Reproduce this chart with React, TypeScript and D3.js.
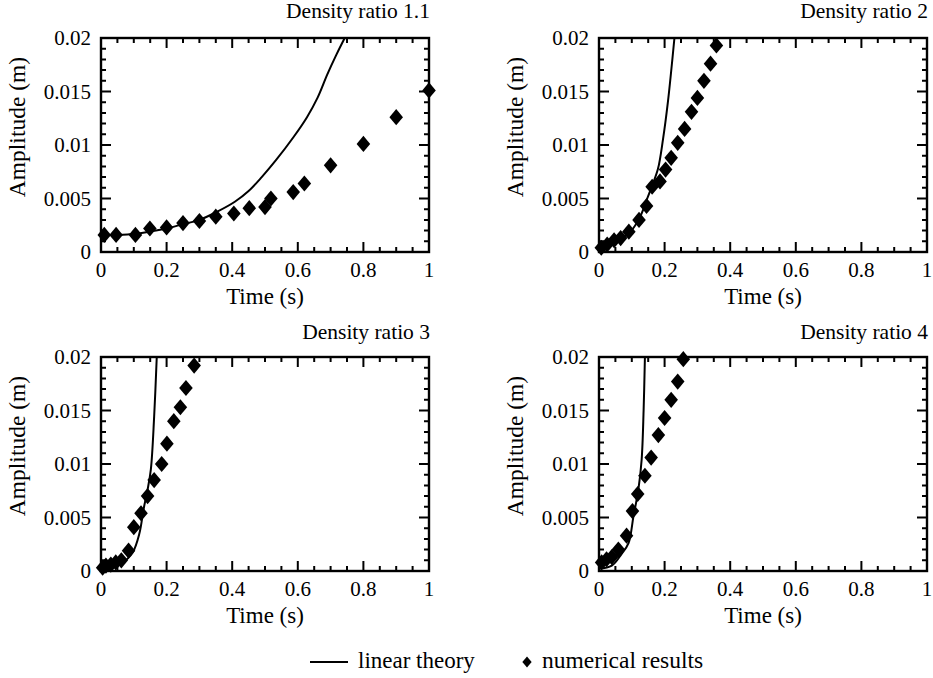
import { useEffect, useRef } from 'react'
import * as d3 from 'd3'

// numerical results (diamonds) and linear theory (curve) per density ratio
const titles = ['Density ratio 1.1', 'Density ratio 2', 'Density ratio 3', 'Density ratio 4']

const numT1 = [0.01, 0.046, 0.105, 0.149, 0.2, 0.25, 0.3, 0.35, 0.405, 0.452, 0.5, 0.518, 0.586, 0.62, 0.7, 0.8, 0.9, 1.0]
const numA1 = [0.0016, 0.0016, 0.0016, 0.0022, 0.0023, 0.0027, 0.0029, 0.0033, 0.0036, 0.0041, 0.0042, 0.005, 0.0056, 0.0064, 0.0081, 0.0101, 0.0126, 0.0151]
const linT1 = [0, 0.05, 0.105, 0.147, 0.2, 0.25, 0.3, 0.356, 0.408, 0.45, 0.49, 0.534, 0.586, 0.628, 0.66, 0.69, 0.717, 0.743]
const linA1 = [0.0016, 0.0016, 0.0017, 0.0019, 0.0022, 0.0026, 0.003, 0.0038, 0.0047, 0.0057, 0.007, 0.0086, 0.0107, 0.0126, 0.0144, 0.0166, 0.0184, 0.02]

const numT2 = [0.007, 0.025, 0.046, 0.066, 0.091, 0.122, 0.145, 0.162, 0.186, 0.203, 0.22, 0.24, 0.261, 0.282, 0.3, 0.32, 0.34, 0.358]
const numA2 = [0.0004, 0.0007, 0.0011, 0.0013, 0.0019, 0.003, 0.0043, 0.0061, 0.0066, 0.0077, 0.0088, 0.0102, 0.0115, 0.0131, 0.0144, 0.016, 0.0176, 0.0193]
const linT2 = [0, 0.046, 0.096, 0.127, 0.147, 0.162, 0.18, 0.195, 0.21, 0.23]
const linA2 = [0.0002, 0.0008, 0.0019, 0.0034, 0.005, 0.0062, 0.0078, 0.0105, 0.014, 0.02]

const numT3 = [0.005, 0.015, 0.03, 0.045, 0.062, 0.084, 0.1, 0.122, 0.142, 0.162, 0.185, 0.201, 0.222, 0.242, 0.259, 0.284]
const numA3 = [0.0003, 0.0005, 0.0006, 0.0008, 0.001, 0.0019, 0.0041, 0.0054, 0.007, 0.0085, 0.01, 0.0119, 0.014, 0.0153, 0.0171, 0.0192]
const linT3 = [0, 0.03, 0.066, 0.096, 0.117, 0.13, 0.142, 0.152, 0.162, 0.17]
const linA3 = [0.0003, 0.0005, 0.0008, 0.0017, 0.0035, 0.0058, 0.0076, 0.0095, 0.0144, 0.02]

const numT4 = [0.008, 0.023, 0.039, 0.059, 0.084, 0.102, 0.118, 0.14, 0.159, 0.181, 0.2, 0.22, 0.24, 0.257]
const numA4 = [0.0008, 0.0011, 0.0013, 0.002, 0.0033, 0.0056, 0.0072, 0.0089, 0.0106, 0.0127, 0.0143, 0.016, 0.0177, 0.0198]
const linT4 = [0, 0.039, 0.069, 0.09, 0.105, 0.12, 0.13, 0.136, 0.14]
const linA4 = [0.0002, 0.0005, 0.0016, 0.0026, 0.0051, 0.0076, 0.0104, 0.015, 0.02]

const xTicks = [0, 0.2, 0.4, 0.6, 0.8, 1]
const yTicks = [0, 0.005, 0.01, 0.015, 0.02]
const yTickLabels = ['0', '0.005', '0.01', '0.015', '0.02']

const panels = [
  { title: titles[0], nt: numT1, na: numA1, lt: linT1, la: linA1 },
  { title: titles[1], nt: numT2, na: numA2, lt: linT2, la: linA2 },
  { title: titles[2], nt: numT3, na: numA3, lt: linT3, la: linA3 },
  { title: titles[3], nt: numT4, na: numA4, lt: linT4, la: linA4 },
]

const FONT = 'Liberation Serif, Times New Roman, serif'

// slightly tall diamond marker
const tallDiamond = {
  draw(ctx: any, size: number) {
    const h = Math.sqrt(size) * 0.62
    const w = h * 0.84
    ctx.moveTo(0, -h)
    ctx.lineTo(w, 0)
    ctx.lineTo(0, h)
    ctx.lineTo(-w, 0)
    ctx.closePath()
  },
}

export default function App() {
  const ref = useRef<SVGSVGElement>(null)

  useEffect(() => {
    const svg = d3.select(ref.current)
    svg.selectAll('*').remove()
    const lefts = [101, 599]
    const tops = [38, 357]
    const pw = 328
    const ph = 214

    panels.forEach((p, i) => {
      const x0 = lefts[i % 2]
      const y0 = tops[Math.floor(i / 2)]
      const x = d3.scaleLinear().domain([0, 1]).range([x0, x0 + pw])
      const y = d3.scaleLinear().domain([0, 0.02]).range([y0 + ph, y0])
      const g = svg.append('g')

      // inward ticks on all four sides, one path
      const tp = d3.path()
      d3.range(0, 21).forEach(k => {
        const len = k % 4 === 0 ? 10 : 5
        const px = x(k * 0.05)
        tp.moveTo(px, y0 + ph); tp.lineTo(px, y0 + ph - len)
        tp.moveTo(px, y0); tp.lineTo(px, y0 + len)
      })
      d3.range(0, 21).forEach(k => {
        const len = k % 5 === 0 ? 10 : 5
        const py = y(k * 0.001)
        tp.moveTo(x0, py); tp.lineTo(x0 + len, py)
        tp.moveTo(x0 + pw, py); tp.lineTo(x0 + pw - len, py)
      })
      g.append('path').attr('d', tp.toString()).attr('fill', 'none').attr('stroke', '#000').attr('stroke-width', 2)

      g.append('rect').attr('x', x0).attr('y', y0).attr('width', pw).attr('height', ph)
        .attr('fill', 'none').attr('stroke', '#000').attr('stroke-width', 2.4)

      xTicks.forEach(t => {
        g.append('text').attr('x', x(t)).attr('y', y0 + ph + 25).attr('text-anchor', 'middle')
          .style('font-family', FONT).attr('font-size', 21).text(String(t))
      })
      yTicks.forEach((a, k) => {
        g.append('text').attr('x', x0 - 10).attr('y', y(a) + 7).attr('text-anchor', 'end')
          .style('font-family', FONT).attr('font-size', 21).text(yTickLabels[k])
      })

      g.append('text').attr('x', x(0.5)).attr('y', y0 + ph + 52).attr('text-anchor', 'middle')
        .style('font-family', FONT).attr('font-size', 23).text('Time (s)')
      g.append('text').attr('transform', `translate(${x0 - 76},${y0 + 89}) rotate(-90)`)
        .attr('text-anchor', 'middle').style('font-family', FONT).attr('font-size', 23.5).text('Amplitude (m)')
      g.append('text').attr('x', x0 + pw + 1).attr('y', y0 - 20 + (i > 1 ? 2 : 0)).attr('text-anchor', 'end')
        .style('font-family', FONT).attr('font-size', 21.5).text(p.title)

      const line = d3.line<number>().x(d => x(d)).y((d, k) => y(p.la[k])).curve(d3.curveCatmullRom.alpha(0.5))
      g.append('path').attr('d', line(p.lt)).attr('fill', 'none').attr('stroke', '#000').attr('stroke-width', 2)

      const diamond = d3.symbol().type(tallDiamond as any).size(170)
      g.selectAll('path.pt').data(p.nt).enter().append('path')
        .attr('transform', (d, k) => `translate(${x(d)},${y(p.na[k])})`)
        .attr('d', diamond).attr('fill', '#000')
    })

    // legend
    const lg = svg.append('g')
    lg.append('line').attr('x1', 310).attr('x2', 348).attr('y1', 662).attr('y2', 662).attr('stroke', '#000').attr('stroke-width', 2)
    lg.append('text').attr('x', 358).attr('y', 668).style('font-family', FONT).attr('font-size', 23).text('linear theory')
    lg.append('path').attr('transform', 'translate(527,662)').attr('d', d3.symbol().type(tallDiamond as any).size(80)()).attr('fill', '#000')
    lg.append('text').attr('x', 542).attr('y', 668).style('font-family', FONT).attr('font-size', 23.5).text('numerical results')
  }, [])

  return <svg ref={ref} width={933} height={678} style={{ position: 'absolute', left: 0, top: 0, background: '#fff' }} />
}
